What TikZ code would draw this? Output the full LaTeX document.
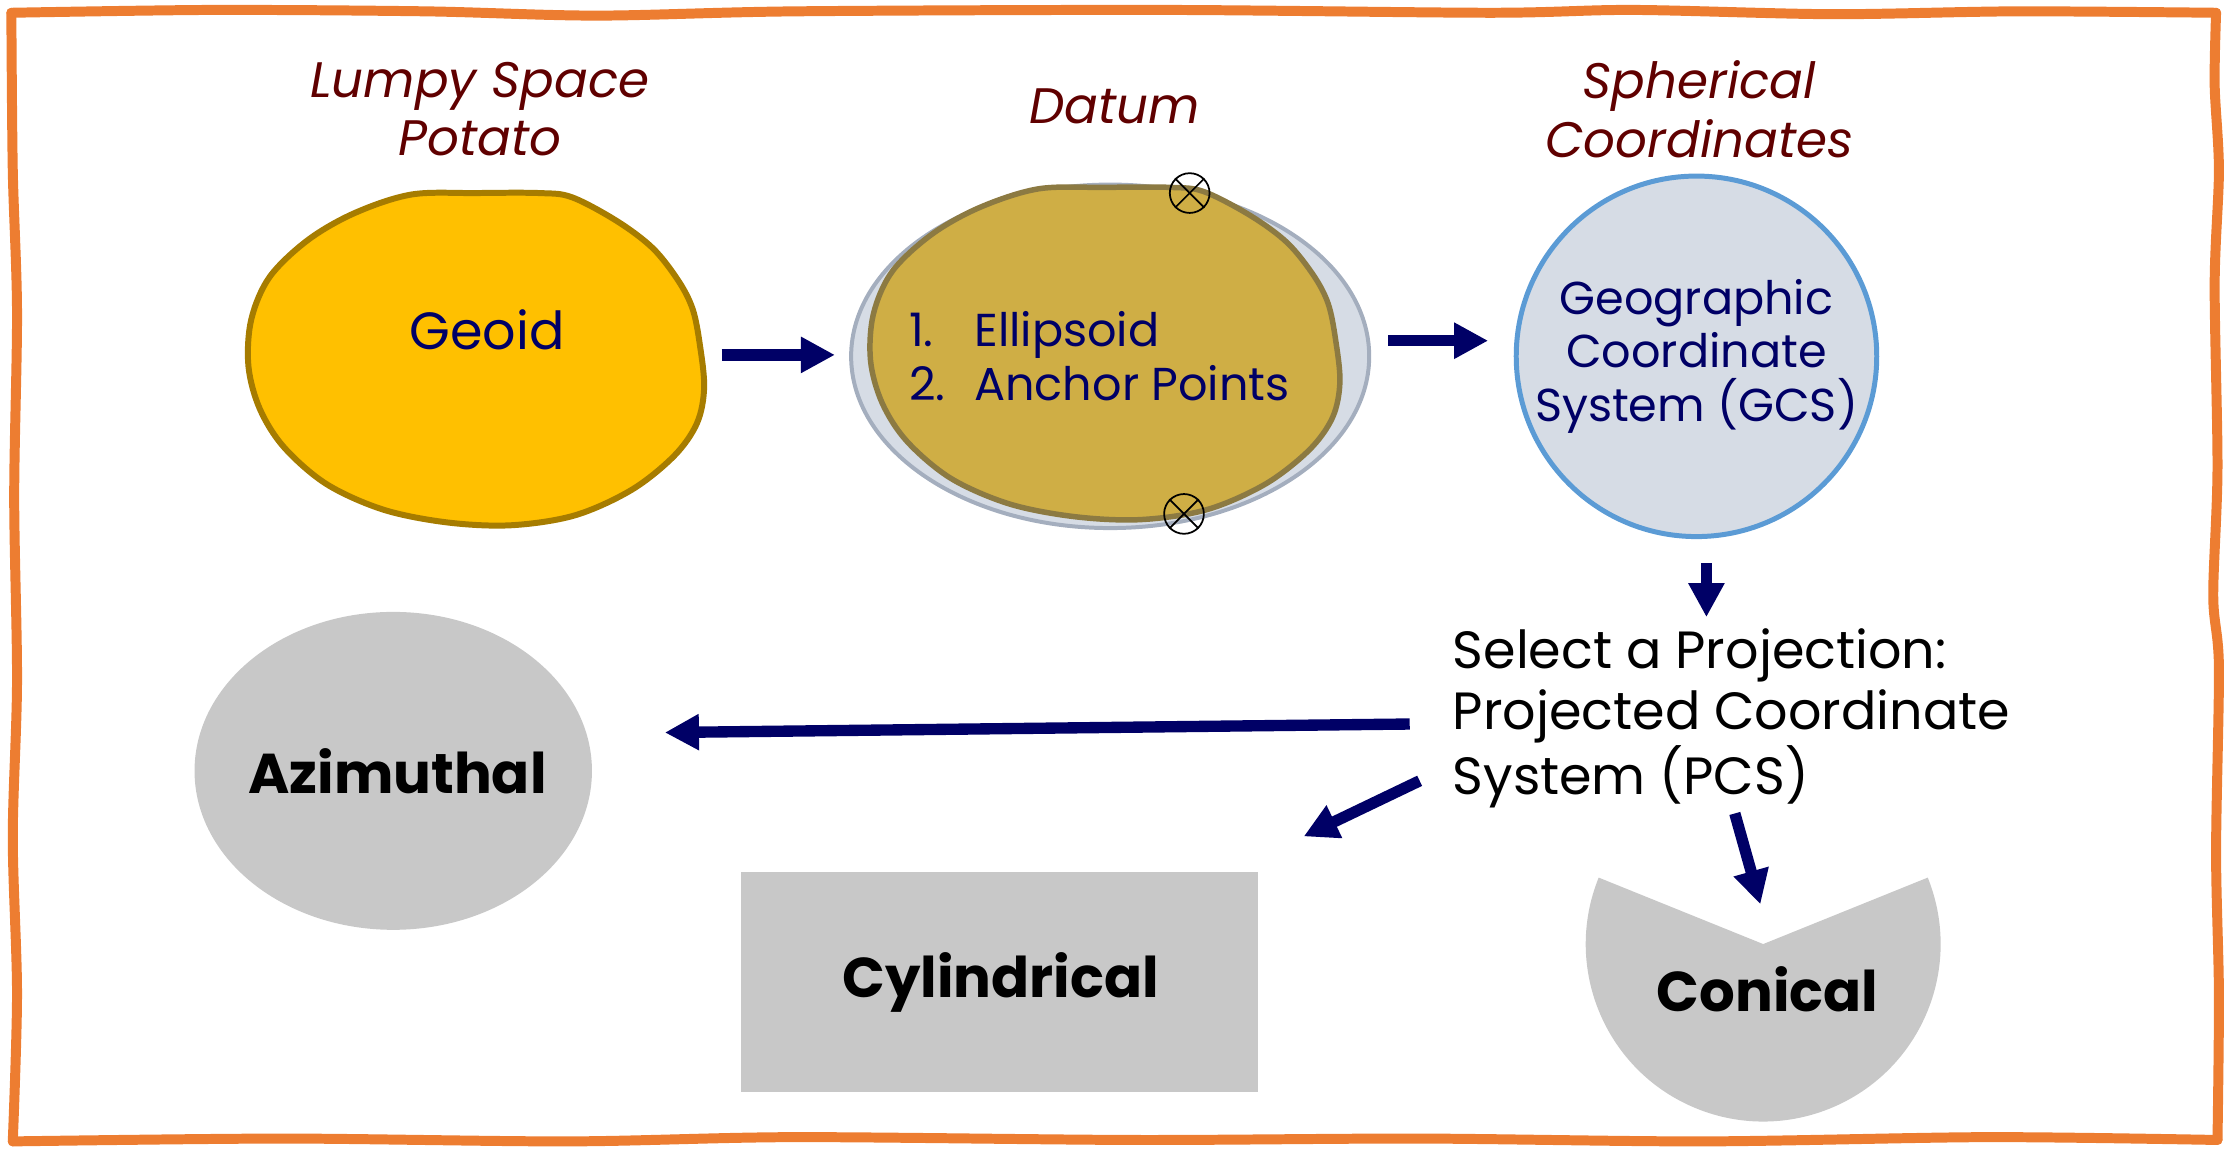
\documentclass[tikz,border=0pt]{standalone}
\usepackage{fontspec}
\setmainfont{Poppins}
\usepackage{xcolor}
\usepackage{tikz}
\usetikzlibrary{arrows.meta,positioning,calc,shapes.geometric}
\definecolor{frameorange}{RGB}{237, 125, 49}
\definecolor{titlered}{RGB}{96, 0, 0}
\definecolor{inknavy}{RGB}{0, 0, 102}
\definecolor{geoidgold}{RGB}{255, 192, 0}
\definecolor{geoidedge}{RGB}{166, 124, 0}
\definecolor{datumgold}{RGB}{207, 174, 69}
\definecolor{datumedge}{RGB}{140, 122, 66}
\definecolor{paleblue}{RGB}{214, 220, 229}
\definecolor{shellgray}{RGB}{164, 174, 190}
\definecolor{gcsblue}{RGB}{91, 155, 213}
\definecolor{shapegray}{RGB}{200, 200, 200}

% lumpy outline of the geoid, drawn around its own centre
\tikzset{
  potato/.pic={
    \path[pic actions] plot[smooth cycle, tension=0.55] coordinates {
      (-45,-116) (0,-117) (45,-117) (68,-114) (100,-97) (125,-78) (143,-55) (153,-35)
      (158,-10) (161,20) (156,45) (140,68) (110,92) (70,110) (25,117)
      (-20,115) (-65,106) (-105,88) (-135,62) (-152,35) (-160,5) (-158,-28)
      (-145,-58) (-118,-84) (-85,-103)};
  }
}

\begin{document}
\begin{tikzpicture}[
  x=0.02cm, y=-0.02cm,
  frameline/.style={draw=frameorange, line width=4pt, line cap=round, line join=round},
  titletext/.style={font=\fontsize{20}{23.5}\selectfont\itshape, text=titlered, align=center, inner sep=0pt},
  navytext/.style={font=\fontsize{18.5}{21.5}\selectfont, text=inknavy, align=center, inner sep=0pt},
  kindshape/.style={fill=shapegray, draw=none, inner sep=0pt},
  kindlabel/.style={font=\fontsize{22.5}{26}\selectfont\bfseries, text=black, inner sep=0pt},
  flowarrow/.style={-{Triangle[length=4.8mm,width=4.8mm]}, line width=1.6mm, color=inknavy},
  pinmark/.style={circle, draw=black, line width=0.7pt, minimum size=5.6mm, inner sep=0pt}
]
\useasboundingbox (0,0) rectangle (1568,810);

% Hand-drawn frame
\draw[frameline] plot[smooth, tension=0.5] coordinates {(8,9) (150,7) (300,8) (420,11) (560,8) (820,7) (1050,9) (1150,7) (1290,10) (1420,8) (1561,9)};
\draw[frameline] plot[smooth, tension=0.5] coordinates {(1561,9) (1560,60) (1563,120) (1560,200) (1562,330) (1559,420) (1563,470) (1561,600) (1563,700) (1562,803)};
\draw[frameline] plot[smooth, tension=0.5] coordinates {(1562,803) (1400,801) (1200,804) (1000,802) (800,803) (560,801) (400,804) (200,802) (9,804)};
\draw[frameline] plot[smooth, tension=0.5] coordinates {(9,804) (12,700) (9,590) (12,480) (10,350) (12,220) (9,120) (8,9)};

% Top row titles
\node[titletext] (potatotitle) at (338,77) {Lumpy Space\\Potato};
\node[titletext] (datumtitle) at (785,75) {Datum};
\node[titletext] (spheretitle) at (1197,77) {Spherical\\Coordinates};

% Geoid
\pic[draw=geoidedge, fill=geoidgold, line width=2.4pt] at (335,253) {potato};
\node[minimum width=6.48cm, minimum height=4.66cm, inner sep=0pt] (geoid) at (335,253) {};
\node[navytext, font=\fontsize{21}{24}\selectfont] (geoidtxt) at (343,232) {Geoid};

% Datum: ellipsoid shell with the geoid laid over it
\node[ellipse, fill=paleblue, draw=shellgray, line width=1.6pt, minimum width=7.3cm, minimum height=4.84cm, inner sep=0pt] (datum) at (782,251) {};
\pic[draw=datumedge, fill=datumgold, line width=2.2pt, xscale=1.03] at (778,249) {potato};
\node[navytext, align=left, anchor=west] (datumtxt) at (640,251) {\makebox[0.92cm][l]{1.}Ellipsoid\\\makebox[0.92cm][l]{2.}Anchor Points};
\foreach \pos/\name in {{(838,136)}/pintop, {(834,362)}/pinbot} {
  \node[pinmark] (\name) at \pos {};
  \draw[line width=0.7pt] (\name.north west) -- (\name.south east) (\name.north east) -- (\name.south west);
}

% GCS
\node[circle, fill=paleblue, draw=gcsblue, line width=2pt, minimum size=5.08cm, navytext] (gcs) at (1195,251) {Geographic\\Coordinate\\System (GCS)};

% Projection choice
\node[font=\fontsize{21}{24.3}\selectfont, align=left, anchor=west, inner sep=0pt] (select) at (1023,506) {Select a Projection:\\Projected Coordinate\\System (PCS)};

% Projection families
\node[ellipse, kindshape, minimum width=5.6cm, minimum height=4.48cm] (azim) at (277,543) {};
\node[kindlabel] (azimtxt) at (280,543) {Azimuthal};
\node[rectangle, kindshape, minimum width=7.28cm, minimum height=3.1cm] (cyl) at (704,692) {};
\node[kindlabel] (cyltxt) at (705,692) {Cylindrical};
\coordinate (conetip) at (1242,665);
\fill[shapegray] (conetip) -- ++(202:125) arc[start angle=202, end angle=-22, radius=125] -- cycle;
\node[kindlabel] (conical) at (1245,697) {Conical};

% Connectors
\draw[flowarrow] ($(geoid.east)+(11,-3)$) -- ($(datum.west)+(-10,-1)$);
\draw[flowarrow] ($(datum.east)+(12,-11)$) -- ($(gcs.west)+(-18,-11)$);
\draw[flowarrow] ($(gcs.south)+(7,17)$) -- ($(gcs.south)+(7,55)$);
\draw[flowarrow] ($(select.west)+(-30,4)$) -- ($(azim.east)+(51,-27)$);
\draw[flowarrow] ($(select.west)+(-23,44)$) -- ($(cyl.north east)+(32,-25)$);
\draw[flowarrow] ($(select.west)+(199,67)$) -- ($(conetip)+(-2,-28)$);

\end{tikzpicture}
\end{document}
